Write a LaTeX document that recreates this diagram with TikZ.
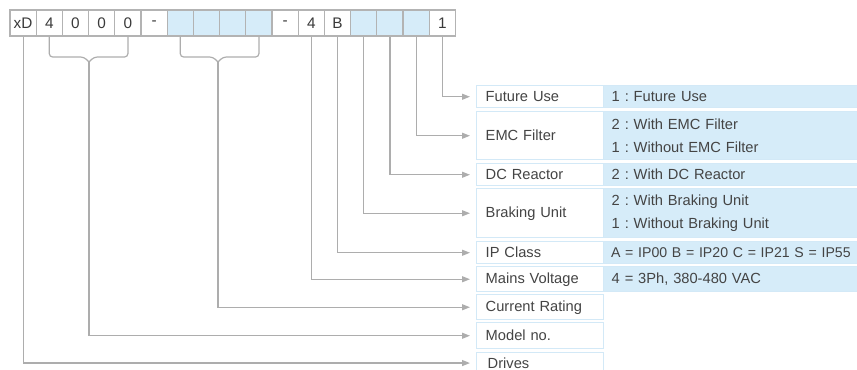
\documentclass[tikz,border=0pt]{standalone}
\usepackage{fontspec}
\setmainfont{Liberation Sans}
\usetikzlibrary{arrows.meta,calc}
\frenchspacing
\definecolor{txt}{HTML}{444444}
\definecolor{codetxt}{HTML}{3A3A3A}
\definecolor{cellb}{HTML}{D3E9F7}
\definecolor{cellf}{HTML}{D6ECF9}
\definecolor{ln}{HTML}{ADADAD}
\definecolor{boxb}{HTML}{B3B3B3}
\begin{document}
\begin{tikzpicture}[x=0.75pt,y=-0.75pt,
  codebox/.style={draw=boxb, line width=0.8pt, minimum width=19.65pt, minimum height=19.5pt,
    inner sep=0pt, text=codetxt, font=\fontsize{11.5}{14}\selectfont},
  lcell/.style={draw=cellb, line width=1.1pt, fill=white, anchor=north west,
    text width=81.75pt, inner xsep=6.75pt, inner ysep=0pt, align=left, text=txt,
    font=\fontsize{11}{17}\selectfont},
  rcell/.style={draw=cellb, line width=1.1pt, fill=cellf, anchor=north west,
    text width=200pt, inner xsep=6pt, inner ysep=0pt, align=left, text=txt,
    font=\fontsize{11}{17}\selectfont},
  conn/.style={draw=ln, line width=0.9pt, -{Triangle[length=6pt,width=4.5pt]}, shorten >=4.5pt},
  bracel/.style={draw=ln, line width=0.9pt, rounded corners=2.5pt}
]
\useasboundingbox (0,0) rectangle (857,370);

% code boxes
\foreach \i/\t/\f in {1/xD/white,2/4/white,3/0/white,4/0/white,5/0/white,6/-/white,
  7//cellf,8//cellf,9//cellf,10//cellf,11/-/white,12/4/white,13/B/white,
  14//cellf,15//cellf,16//cellf,17/1/white}
  \node[codebox, fill=\f] (c\i) at ({10+26.2*(\i-0.5)},23) {\t};

% table rows
\node[lcell, minimum height=16.5pt] (fut) at (476,85) {Future Use};
\node[rcell, minimum height=16.5pt] (futv) at (603,85) {1 : Future Use};
\node[lcell, minimum height=36pt] (emc) at (476,111) {EMC Filter};
\node[rcell, minimum height=36pt] (emcv) at (603,111) {2 : With EMC Filter\\1 : Without EMC Filter};
\node[lcell, minimum height=16.5pt] (dcr) at (476,163) {DC Reactor};
\node[rcell, minimum height=16.5pt] (dcrv) at (603,163) {2 : With DC Reactor};
\node[lcell, minimum height=36.75pt] (brk) at (476,188) {Braking Unit};
\node[rcell, minimum height=36.75pt] (brkv) at (603,188) {2 : With Braking Unit\\1 : Without Braking Unit};
\node[lcell, minimum height=16.5pt] (ipc) at (476,241) {IP Class};
\node[rcell, minimum height=16.5pt, inner xsep=5.5pt, font=\fontsize{10.6}{17}\selectfont] (ipcv) at (603,241) {A = IP00 B = IP20 C = IP21 S = IP55};
\node[lcell, minimum height=18.75pt] (mv) at (476,266) {Mains Voltage};
\node[rcell, minimum height=18.75pt] (mvv) at (603,266) {4 = 3Ph, 380-480 VAC};
\node[lcell, minimum height=18.75pt] (cr) at (476,294) {Current Rating};
\node[lcell, minimum height=19.5pt] (mod) at (476,322) {Model no.};
\node[lcell, minimum height=15.5pt] (drv) at (476,352) {\hspace*{1.5pt}Drives};

% braces
\coordinate (b1) at (89,62);
\coordinate (b2) at (218,62);
\draw[bracel] (c2.south) |- ($(b1)+(-5,-5)$) -- (b1);
\draw[bracel] (c5.south) |- ($(b1)+(5,-5)$) -- (b1);
\draw[bracel] (c7.south) |- ($(b2)+(-5,-5)$) -- (b2);
\draw[bracel] (c10.south) |- ($(b2)+(5,-5)$) -- (b2);

% connectors
\draw[conn] (c17.south) |- (fut.west);
\draw[conn] (c16.south) |- (emc.west);
\draw[conn] (c15.south) |- (dcr.west);
\draw[conn] (c14.south) |- (brk.west);
\draw[conn] (c13.south) |- (ipc.west);
\draw[conn] (c12.south) |- (mv.west);
\draw[conn] (b2) |- (cr.west);
\draw[conn] (b1) |- (mod.west);
\draw[conn] (c1.south) |- (drv.west);
\end{tikzpicture}
\end{document}
